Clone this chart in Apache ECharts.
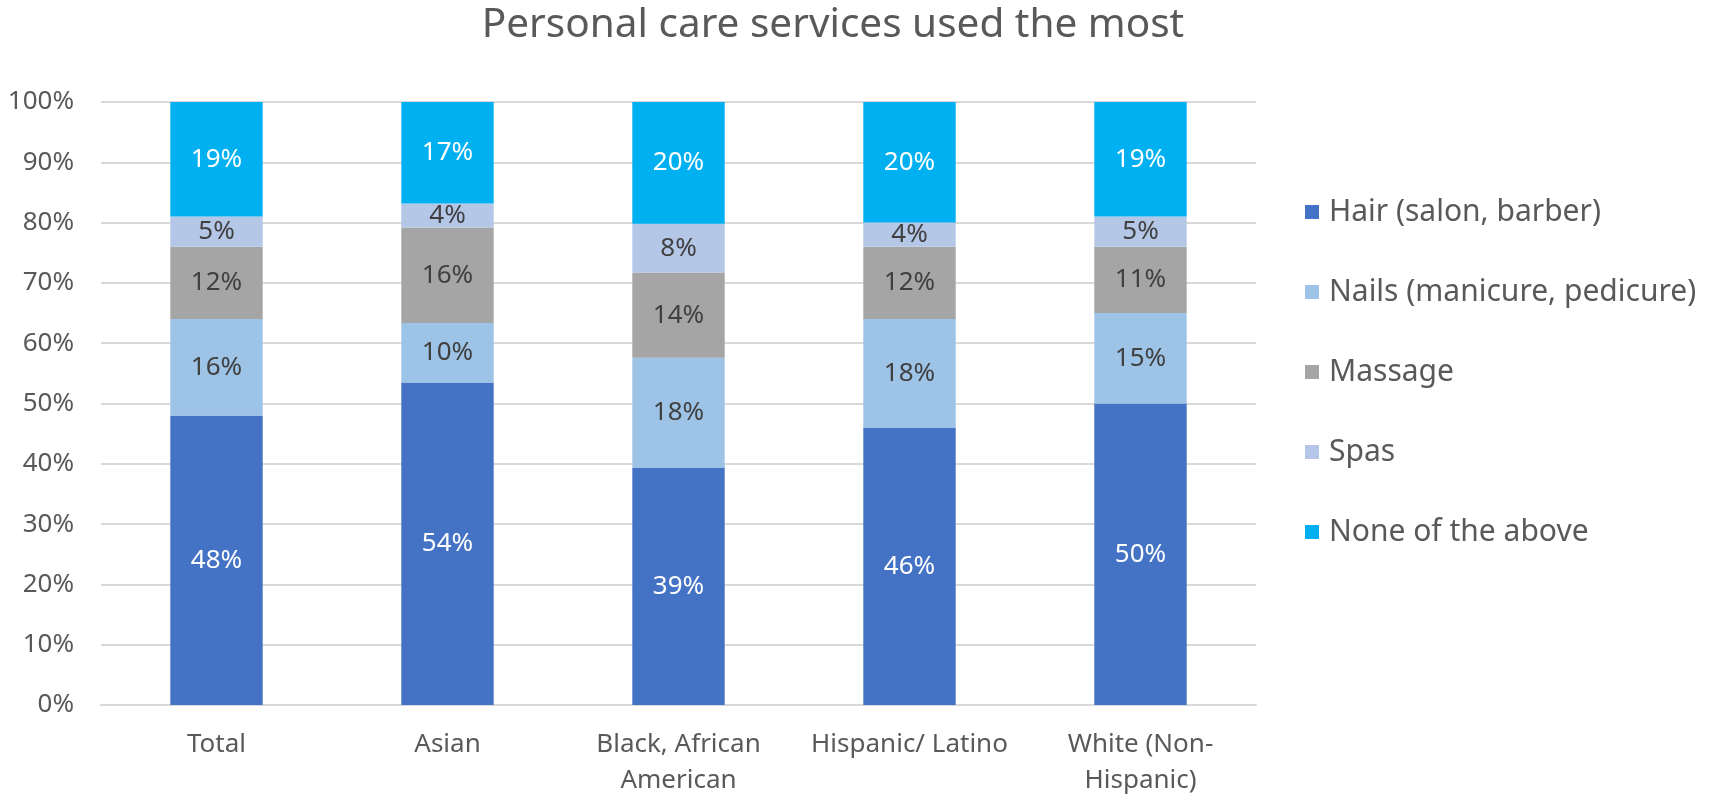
<!DOCTYPE html>
<html>
<head>
<meta charset="utf-8">
<style>
  html, body { margin: 0; padding: 0; background: #ffffff; }
  #chart { width: 1730px; height: 799px; }
</style>
<script src="https://cdn.jsdelivr.net/npm/echarts@6/dist/echarts.min.js"></script>
</head>
<body>
<div id="chart"></div>
<script>
// Survey groups along the x axis
const categories = ['Total', 'Asian', 'Black, African\nAmerican', 'Hispanic/ Latino', 'White (Non-\nHispanic)'];

// Share of respondents (%) per service, one value per group
const hair    = [48, 54, 39, 46, 50];
const nails   = [16, 10, 18, 18, 15];
const massage = [12, 16, 14, 12, 11];
const spas    = [5, 4, 8, 4, 5];
const none    = [19, 17, 20, 20, 19];

const yTicks = [0, 10, 20, 30, 40, 50, 60, 70, 80, 90, 100];

const seriesDefs = [
  { name: 'Hair (salon, barber)',        values: hair,    color: '#4472C4', text: '#ffffff' },
  { name: 'Nails (manicure, pedicure)',  values: nails,   color: '#9DC3E6', text: '#404040' },
  { name: 'Massage',                     values: massage, color: '#A5A5A5', text: '#404040' },
  { name: 'Spas',                        values: spas,    color: '#B4C7E7', text: '#404040' },
  { name: 'None of the above',           values: none,    color: '#00B0F0', text: '#ffffff' }
];

// 100% stacked: each column is scaled by its own total
const totals = categories.map((_, i) => seriesDefs.reduce((s, d) => s + d.values[i], 0));

const FONT = '"Noto Sans", "Open Sans", sans-serif';

const chart = echarts.init(document.getElementById('chart'), null, { renderer: 'canvas' });

chart.setOption({
  animation: false,
  backgroundColor: '#ffffff',
  title: {
    text: 'Personal care services used the most',
    left: 828,
    top: 0,
    textAlign: 'center',
    textStyle: { fontFamily: FONT, fontSize: 40.5, fontWeight: 'normal', color: '#595959' }
  },
  legend: {
    orient: 'vertical',
    left: 1300,
    top: 191,
    itemWidth: 14,
    itemHeight: 14,
    itemGap: 48,
    icon: 'rect',
    textStyle: { fontFamily: FONT, fontSize: 30, color: '#595959', lineHeight: 32, padding: [0, 0, 0, 5] },
    data: seriesDefs.map(d => d.name)
  },
  grid: { left: 101, right: 474, top: 102, bottom: 92, containLabel: false },
  xAxis: {
    type: 'category',
    data: categories,
    axisLine: { show: true, lineStyle: { color: '#D9D9D9', width: 2 } },
    axisTick: { show: false },
    axisLabel: {
      fontFamily: FONT, fontSize: 26, color: '#595959', lineHeight: 36, margin: 22,
      interval: 0
    }
  },
  yAxis: {
    type: 'value',
    min: 0,
    max: 100,
    interval: 10,
    axisLine: { show: false },
    axisTick: { show: false },
    splitLine: { lineStyle: { color: '#D9D9D9', width: 2 } },
    axisLabel: {
      fontFamily: FONT, fontSize: 26, color: '#595959', margin: 27,
      formatter: v => (yTicks.indexOf(v) >= 0 ? v + '%' : '')
    }
  },
  series: seriesDefs.map(d => ({
    name: d.name,
    type: 'bar',
    stack: 'share',
    barWidth: '40%',
    itemStyle: { color: d.color },
    label: {
      show: true,
      position: 'inside',
      fontFamily: FONT,
      fontSize: 26,
      color: d.text,
      formatter: p => d.values[p.dataIndex] + '%'
    },
    data: d.values.map((v, i) => v / totals[i] * 100)
  }))
});
</script>
</body>
</html>
